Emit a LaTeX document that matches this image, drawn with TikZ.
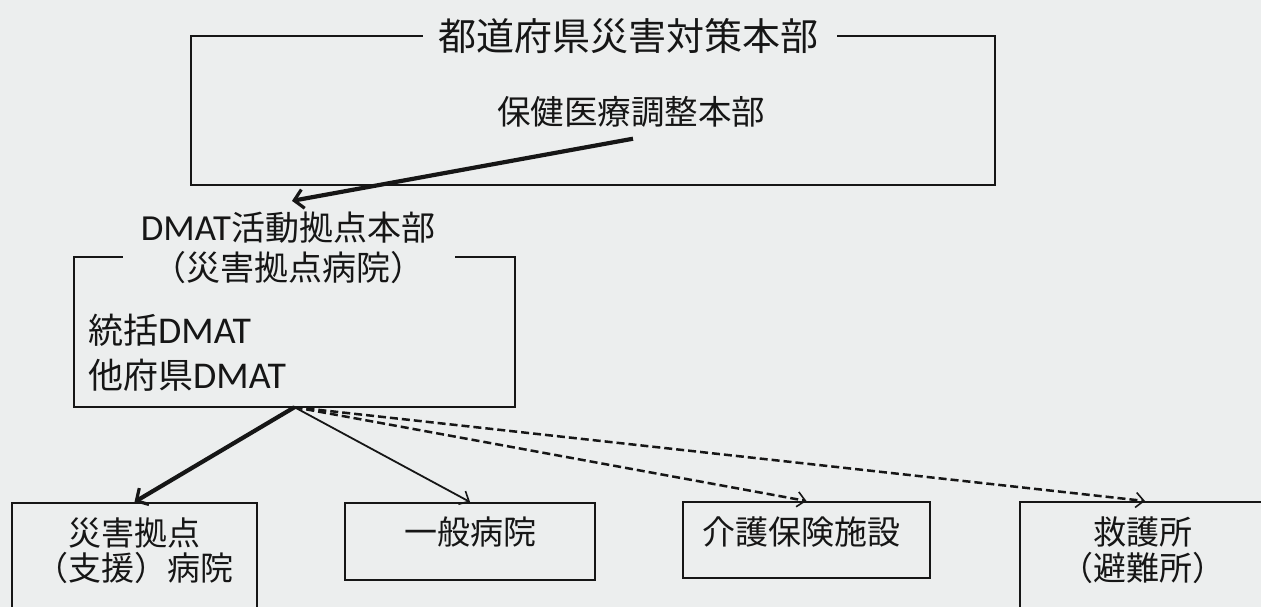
\documentclass[tikz,border=0pt]{standalone}
\usepackage{fontspec}
\setmainfont{Carlito}[Scale=1.08]
\newfontfamily\jpf{Noto Sans CJK JP}
\usetikzlibrary{arrows.meta}
\definecolor{paper}{RGB}{236,238,238}
\definecolor{ink}{RGB}{22,22,22}
\newcommand{\DM}{{\rmfamily DMAT}}
\begin{document}
\begin{tikzpicture}[x=1pt,y=-1pt,
  frame/.style={draw=ink,line width=2pt},
  box/.style={draw=ink,line width=2pt,inner sep=0pt},
  lbl/.style={text=ink,inner sep=0pt,align=center,font=\jpf\fontsize{33}{35}\selectfont},
  bigarrow/.style={draw=ink,line width=4.2pt,-{Straight Barb[length=9pt,width=19pt,line width=3.2pt]}},
  thinarrow/.style={draw=ink,line width=1.8pt,-{Straight Barb[length=8pt,width=15pt,line width=1.6pt]}},
  dasharrow/.style={draw=ink,line width=2.5pt,dash pattern=on 8pt off 4pt,-{Straight Barb[length=8pt,width=15pt,line width=1.6pt]}}]
\clip (0,0) rectangle (1261,607);
\fill[paper] (0,0) rectangle (1261,607);

% top box
\node[lbl,font=\jpf\fontsize{38}{40}\selectfont] (title) at (628,36) {都道府県災害対策本部};
\draw[frame] ([xshift=-15pt]title.west) -- (191,36) -- (191,185) -- (995,185) -- (995,36) -- ([xshift=19pt]title.east);
\node[lbl,font=\jpf\fontsize{33.5}{40}\selectfont] (hq) at (631,112) {保健医療調整本部};

% DMAT box
\node[lbl,font=\jpf\fontsize{34}{40}\selectfont] (dt) at (288,248) {\DM 活動拠点本部\\（災害拠点病院）};
\node[draw=none,minimum width=441pt,minimum height=150pt,inner sep=0pt] (db) at (294.5,332) {};
\draw[frame] ([xshift=49pt]db.north west) -- (db.north west) -- (db.south west) -- (db.south east) -- (db.north east) -- ([xshift=-60pt]db.north east);
\node[lbl,anchor=west,font=\jpf\fontsize{35}{40}\selectfont] (t1) at (88,330) {統括\DM};
\node[lbl,anchor=west,font=\jpf\fontsize{35}{40}\selectfont] (t2) at (88,375) {他府県\DM};

\draw[bigarrow] ([xshift=2pt,yshift=-11pt]hq.south) -- ([xshift=4pt,yshift=11pt]dt.north);

% bottom boxes
\node[box,minimum width=245pt,minimum height=140pt] (b1) at (134.5,573) {};
\node[lbl] (b1t) at (134,551) {災害拠点\\（支援）病院};
\node[box,minimum width=250pt,minimum height=77pt] (b2) at (470,541.5) {};
\node[lbl] (b2t) at (470,532) {一般病院};
\node[box,minimum width=247pt,minimum height=76pt] (b3) at (806.5,540) {};
\node[lbl] (b3t) at (801,532) {介護保険施設};
\node[box,minimum width=250pt,minimum height=140pt] (b4) at (1145,572) {};
\node[lbl,font=\jpf\fontsize{33}{36}\selectfont] (b4t) at (1143,550) {救護所\\（避難所）};

% connectors
\draw[bigarrow] (db.south) -- (b1.north);
\draw[thinarrow] (db.south) -- (b2.north);
\draw[dasharrow] (db.south) -- (b3.north);
\draw[dasharrow] (db.south) -- (b4.north);
\end{tikzpicture}
\end{document}
